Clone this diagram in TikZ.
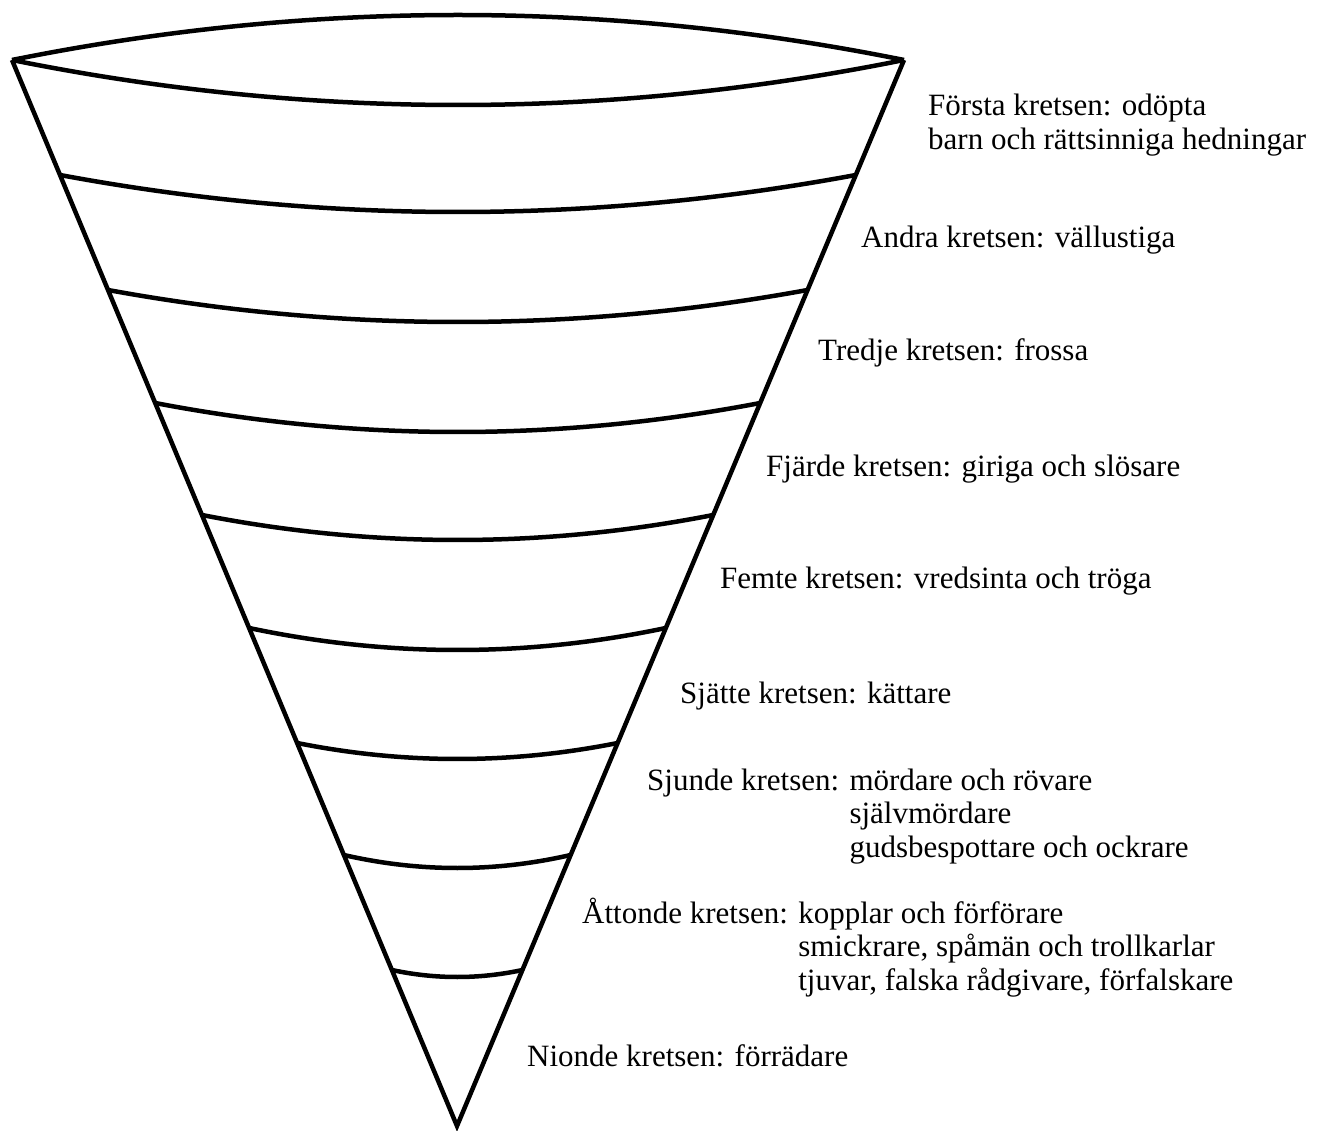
\documentclass[tikz,border=0pt]{standalone}
\usepackage{fontspec}
\setmainfont{Liberation Serif}
\usepackage{tikz}
\usetikzlibrary{calc, positioning}

\newcommand{\kretsfont}{\fontsize{31}{33.5}\selectfont}
\tikzset{
  kon/.style={line width=4.5pt, line join=miter},
  krets/.style={anchor=base west, inner sep=0pt, font=\kretsfont}
}

\begin{document}
\begin{tikzpicture}[x=1pt, y=-1pt]
				\useasboundingbox (0,0) rectangle (1322,1131);
				\coordinate (A) at (12,60);
				\coordinate (B) at (904,60);
				\coordinate (O) at (457,1126);
				
				% the cone and its opening
				\draw [kon] (A) -- (O) -- (B);
				\draw [kon] (A) .. controls (309,0) and (607,0) .. (B);
				\draw [kon] (A) .. controls (309,120) and (607,120) .. (B);
				
				% the rings
				\foreach \ye/\ym in {175/212, 290/322, 403/432, 515/540, 628/650, 743/759, 855/868, 970/977}{
					\pgfmathsetmacro{\t}{(\ye-60)/1066}
					\pgfmathsetmacro{\s}{4/3*(\ym-\ye)}
					\coordinate (l) at ($(A)!\t!(O)$);
					\coordinate (r) at ($(B)!\t!(O)$);
					\draw [kon] (l) .. controls ($(l)!0.3333!(r)+(0,\s)$) and ($(l)!0.6667!(r)+(0,\s)$) .. (r);
				}
				
				% the labels
				\node [krets] (k1) at (928,116) {\begin{tabular}[t]{@{}l@{}}Första kretsen: odöpta\\ barn och rättsinniga hedningar\end{tabular}};
				\node [krets] (k2) at (861,248) {Andra kretsen: vällustiga};
				\node [krets] (k3) at (818,361) {Tredje kretsen: frossa};
				\node [krets] (k4) at (766,476) {Fjärde kretsen: giriga och slösare};
				\node [krets] (k5) at (720,588) {Femte kretsen: vredsinta och tröga};
				\node [krets] (k6) at (680,703) {Sjätte kretsen: kättare};
				\node [krets] (k7) at (647,790) {\begin{tabular}[t]{@{}l@{ }l@{}}Sjunde kretsen: & mördare och rövare\\ & självmördare\\ & gudsbespottare och ockrare\end{tabular}};
				\node [krets] (k8) at (582,923) {\begin{tabular}[t]{@{}l@{ }l@{}}Åttonde kretsen: & kopplar och förförare\\ & smickrare, spåmän och trollkarlar\\ & tjuvar, falska rådgivare, förfalskare\end{tabular}};
				\node [krets] (k9) at (527,1066) {Nionde kretsen: förrädare};
\end{tikzpicture}
\end{document}
